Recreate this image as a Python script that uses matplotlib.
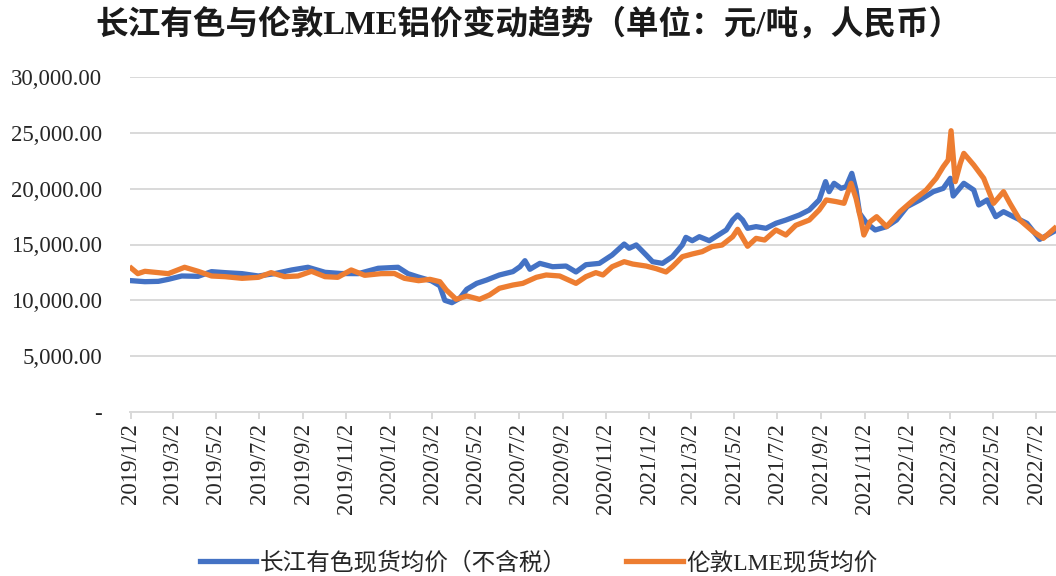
import matplotlib
matplotlib.use('Agg')
import matplotlib.pyplot as plt
import matplotlib.dates as mdates
import matplotlib.ticker as mticker
import pandas as pd

# 长江有色现货均价（不含税），元/吨
cj_dates = ['2019-01-03', '2019-01-22', '2019-02-10', '2019-02-24', '2019-03-15',
            '2019-04-07', '2019-04-26', '2019-05-15', '2019-06-08', '2019-07-01',
            '2019-07-24', '2019-08-17', '2019-09-09', '2019-10-03', '2019-10-26',
            '2019-11-19', '2019-12-17', '2020-01-14', '2020-01-28', '2020-02-11',
            '2020-03-01', '2020-03-13', '2020-03-20', '2020-03-30', '2020-04-10',
            '2020-04-20', '2020-05-04', '2020-05-18', '2020-06-05', '2020-06-24',
            '2020-07-04', '2020-07-11', '2020-07-18', '2020-08-01', '2020-08-19',
            '2020-09-07', '2020-09-21', '2020-10-05', '2020-10-24', '2020-11-11',
            '2020-11-28', '2020-12-05', '2020-12-15', '2020-12-29', '2021-01-07',
            '2021-01-21', '2021-02-04', '2021-02-18', '2021-02-23', '2021-03-04',
            '2021-03-14', '2021-03-28', '2021-04-11', '2021-04-21', '2021-04-30',
            '2021-05-07', '2021-05-14', '2021-05-21', '2021-06-02', '2021-06-16',
            '2021-06-30', '2021-07-14', '2021-08-02', '2021-08-16', '2021-08-30',
            '2021-09-08', '2021-09-13', '2021-09-20', '2021-09-30', '2021-10-07',
            '2021-10-15', '2021-10-21', '2021-10-26', '2021-11-05', '2021-11-17',
            '2021-12-03', '2021-12-17', '2022-01-01', '2022-01-19', '2022-02-07',
            '2022-02-21', '2022-03-03', '2022-03-07', '2022-03-22', '2022-04-05',
            '2022-04-12', '2022-04-24', '2022-05-06', '2022-05-17', '2022-05-31',
            '2022-06-19', '2022-07-07', '2022-07-28']
cj_price = [11760, 11670, 11700, 11880, 12180,
            12150, 12570, 12480, 12390, 12180,
            12390, 12720, 12960, 12510, 12400,
            12390, 12870, 12960, 12390, 12100,
            11750, 11300, 10000, 9790, 10180,
            10990, 11520, 11820, 12270, 12570,
            13010, 13550, 12780, 13310, 13010,
            13070, 12540, 13190, 13310, 14060,
            15040, 14660, 14960, 14060, 13460,
            13310, 13910, 14960, 15640, 15340,
            15700, 15340, 15900, 16300, 17190,
            17640, 17190, 16450, 16600, 16450,
            16900, 17190, 17640, 18090, 18990,
            20630, 19730, 20480, 20030, 20180,
            21370, 19880, 17790, 16900, 16300,
            16600, 17190, 18390, 18990, 19730,
            20030, 20930, 19340, 20480, 19880,
            18540, 18990, 17490, 17940, 17490,
            16900, 15460, 16200]

# 伦敦LME现货均价，折人民币
lme_dates = ['2019-01-03', '2019-01-12', '2019-01-22', '2019-02-10', '2019-02-24',
             '2019-03-19', '2019-04-07', '2019-04-26', '2019-05-15', '2019-06-08',
             '2019-07-01', '2019-07-19', '2019-08-07', '2019-08-26', '2019-09-14',
             '2019-10-03', '2019-10-21', '2019-11-09', '2019-11-28', '2019-12-21',
             '2020-01-09', '2020-01-23', '2020-02-12', '2020-02-28', '2020-03-13',
             '2020-03-22', '2020-04-05', '2020-04-20', '2020-05-08', '2020-05-22',
             '2020-06-05', '2020-06-24', '2020-07-08', '2020-07-27', '2020-08-10',
             '2020-08-29', '2020-09-21', '2020-10-05', '2020-10-19', '2020-10-29',
             '2020-11-11', '2020-11-28', '2020-12-10', '2020-12-29', '2021-01-12',
             '2021-01-26', '2021-02-04', '2021-02-18', '2021-03-04', '2021-03-18',
             '2021-04-01', '2021-04-15', '2021-04-30', '2021-05-07', '2021-05-21',
             '2021-06-02', '2021-06-14', '2021-06-30', '2021-07-14', '2021-07-28',
             '2021-08-16', '2021-08-30', '2021-09-09', '2021-09-23', '2021-10-04',
             '2021-10-14', '2021-10-21', '2021-10-28', '2021-11-01', '2021-11-10',
             '2021-11-19', '2021-12-03', '2021-12-22', '2022-01-10', '2022-01-28',
             '2022-02-11', '2022-02-21', '2022-02-28', '2022-03-04', '2022-03-10',
             '2022-03-17', '2022-03-22', '2022-04-05', '2022-04-19', '2022-05-03',
             '2022-05-17', '2022-05-26', '2022-06-09', '2022-06-28', '2022-07-12',
             '2022-07-28']
lme_price = [12870, 12390, 12600, 12480, 12390,
             12960, 12600, 12180, 12120, 11970,
             12060, 12480, 12120, 12180, 12600,
             12120, 12060, 12720, 12240, 12390,
             12400, 11970, 11760, 11880, 11670,
             10930, 10090, 10390, 10090, 10480,
             11080, 11370, 11520, 12060, 12270,
             12180, 11520, 12120, 12480, 12270,
             13010, 13460, 13250, 13070, 12840,
             12540, 13010, 13910, 14150, 14360,
             14810, 14950, 15700, 16360, 14840,
             15550, 15400, 16300, 15850, 16720,
             17190, 18090, 18990, 18840, 18690,
             20480, 19130, 17190, 15850, 17050,
             17490, 16600, 17940, 18990, 19880,
             20930, 21970, 22570, 25190, 20630,
             22270, 23160, 22120, 20930, 18690,
             19730, 18690, 17190, 16150, 15550,
             16450]

y_ticks = [0, 5000, 10000, 15000, 20000, 25000, 30000]

cj_x = pd.to_datetime(cj_dates)
lme_x = pd.to_datetime(lme_dates)

serif_cjk = ['Liberation Serif', 'Noto Sans CJK SC']
plt.rcParams['font.family'] = serif_cjk

fig = plt.figure(figsize=(10.56, 5.76), dpi=100)
ax = fig.add_axes([130 / 1056, 1 - 412 / 576, 1 - 130 / 1056, (412 - 77) / 576])

ax.plot(cj_x, cj_price, color='#4472C4', lw=3.8, solid_joinstyle='round',
        label='长江有色现货均价（不含税）')
ax.plot(lme_x, lme_price, color='#ED7D31', lw=3.8, solid_joinstyle='round',
        label='伦敦LME现货均价')

ax.set_ylim(0, 30000)
ax.set_yticks(y_ticks)
ax.yaxis.set_major_formatter(mticker.FuncFormatter(
    lambda v, p: '-' if v == 0 else f'{v:,.2f}'))
ax.set_xlim(pd.Timestamp('2019-01-01'), pd.Timestamp('2022-07-30'))
ax.xaxis.set_major_locator(mdates.MonthLocator(bymonth=[1, 3, 5, 7, 9, 11], bymonthday=2))
ax.xaxis.set_major_formatter(mticker.FuncFormatter(
    lambda v, p: (lambda d: f'{d.year}/{d.month}/{d.day}')(mdates.num2date(v))))

ax.grid(axis='y', color='#d9d9d9', lw=1.4)
ax.set_axisbelow(True)
for s in ['left', 'right', 'top']:
    ax.spines[s].set_visible(False)
ax.spines['bottom'].set_color('#d9d9d9')
ax.spines['bottom'].set_linewidth(1.4)
ax.tick_params(axis='y', length=0, pad=20, labelsize=16.5, labelcolor='#262626')
ax.tick_params(axis='x', length=5, width=1.4, color='#d9d9d9', direction='out',
               pad=3, labelsize=16.5, labelcolor='#262626', labelrotation=90)

fig.text(0.5, 1 - 24 / 576, '长江有色与伦敦LME铝价变动趋势（单位：元/吨，人民币）',
         ha='center', va='center', fontsize=23.5, fontweight='bold', color='#1a1a1a')

fig.legend(loc='center', bbox_to_anchor=(0.51, 1 - 563 / 576), ncol=2, frameon=False,
           fontsize=17, handlelength=2.4, handletextpad=0.15, columnspacing=2.5,
           labelcolor='#262626')

fig.savefig('out.png', dpi=100)
